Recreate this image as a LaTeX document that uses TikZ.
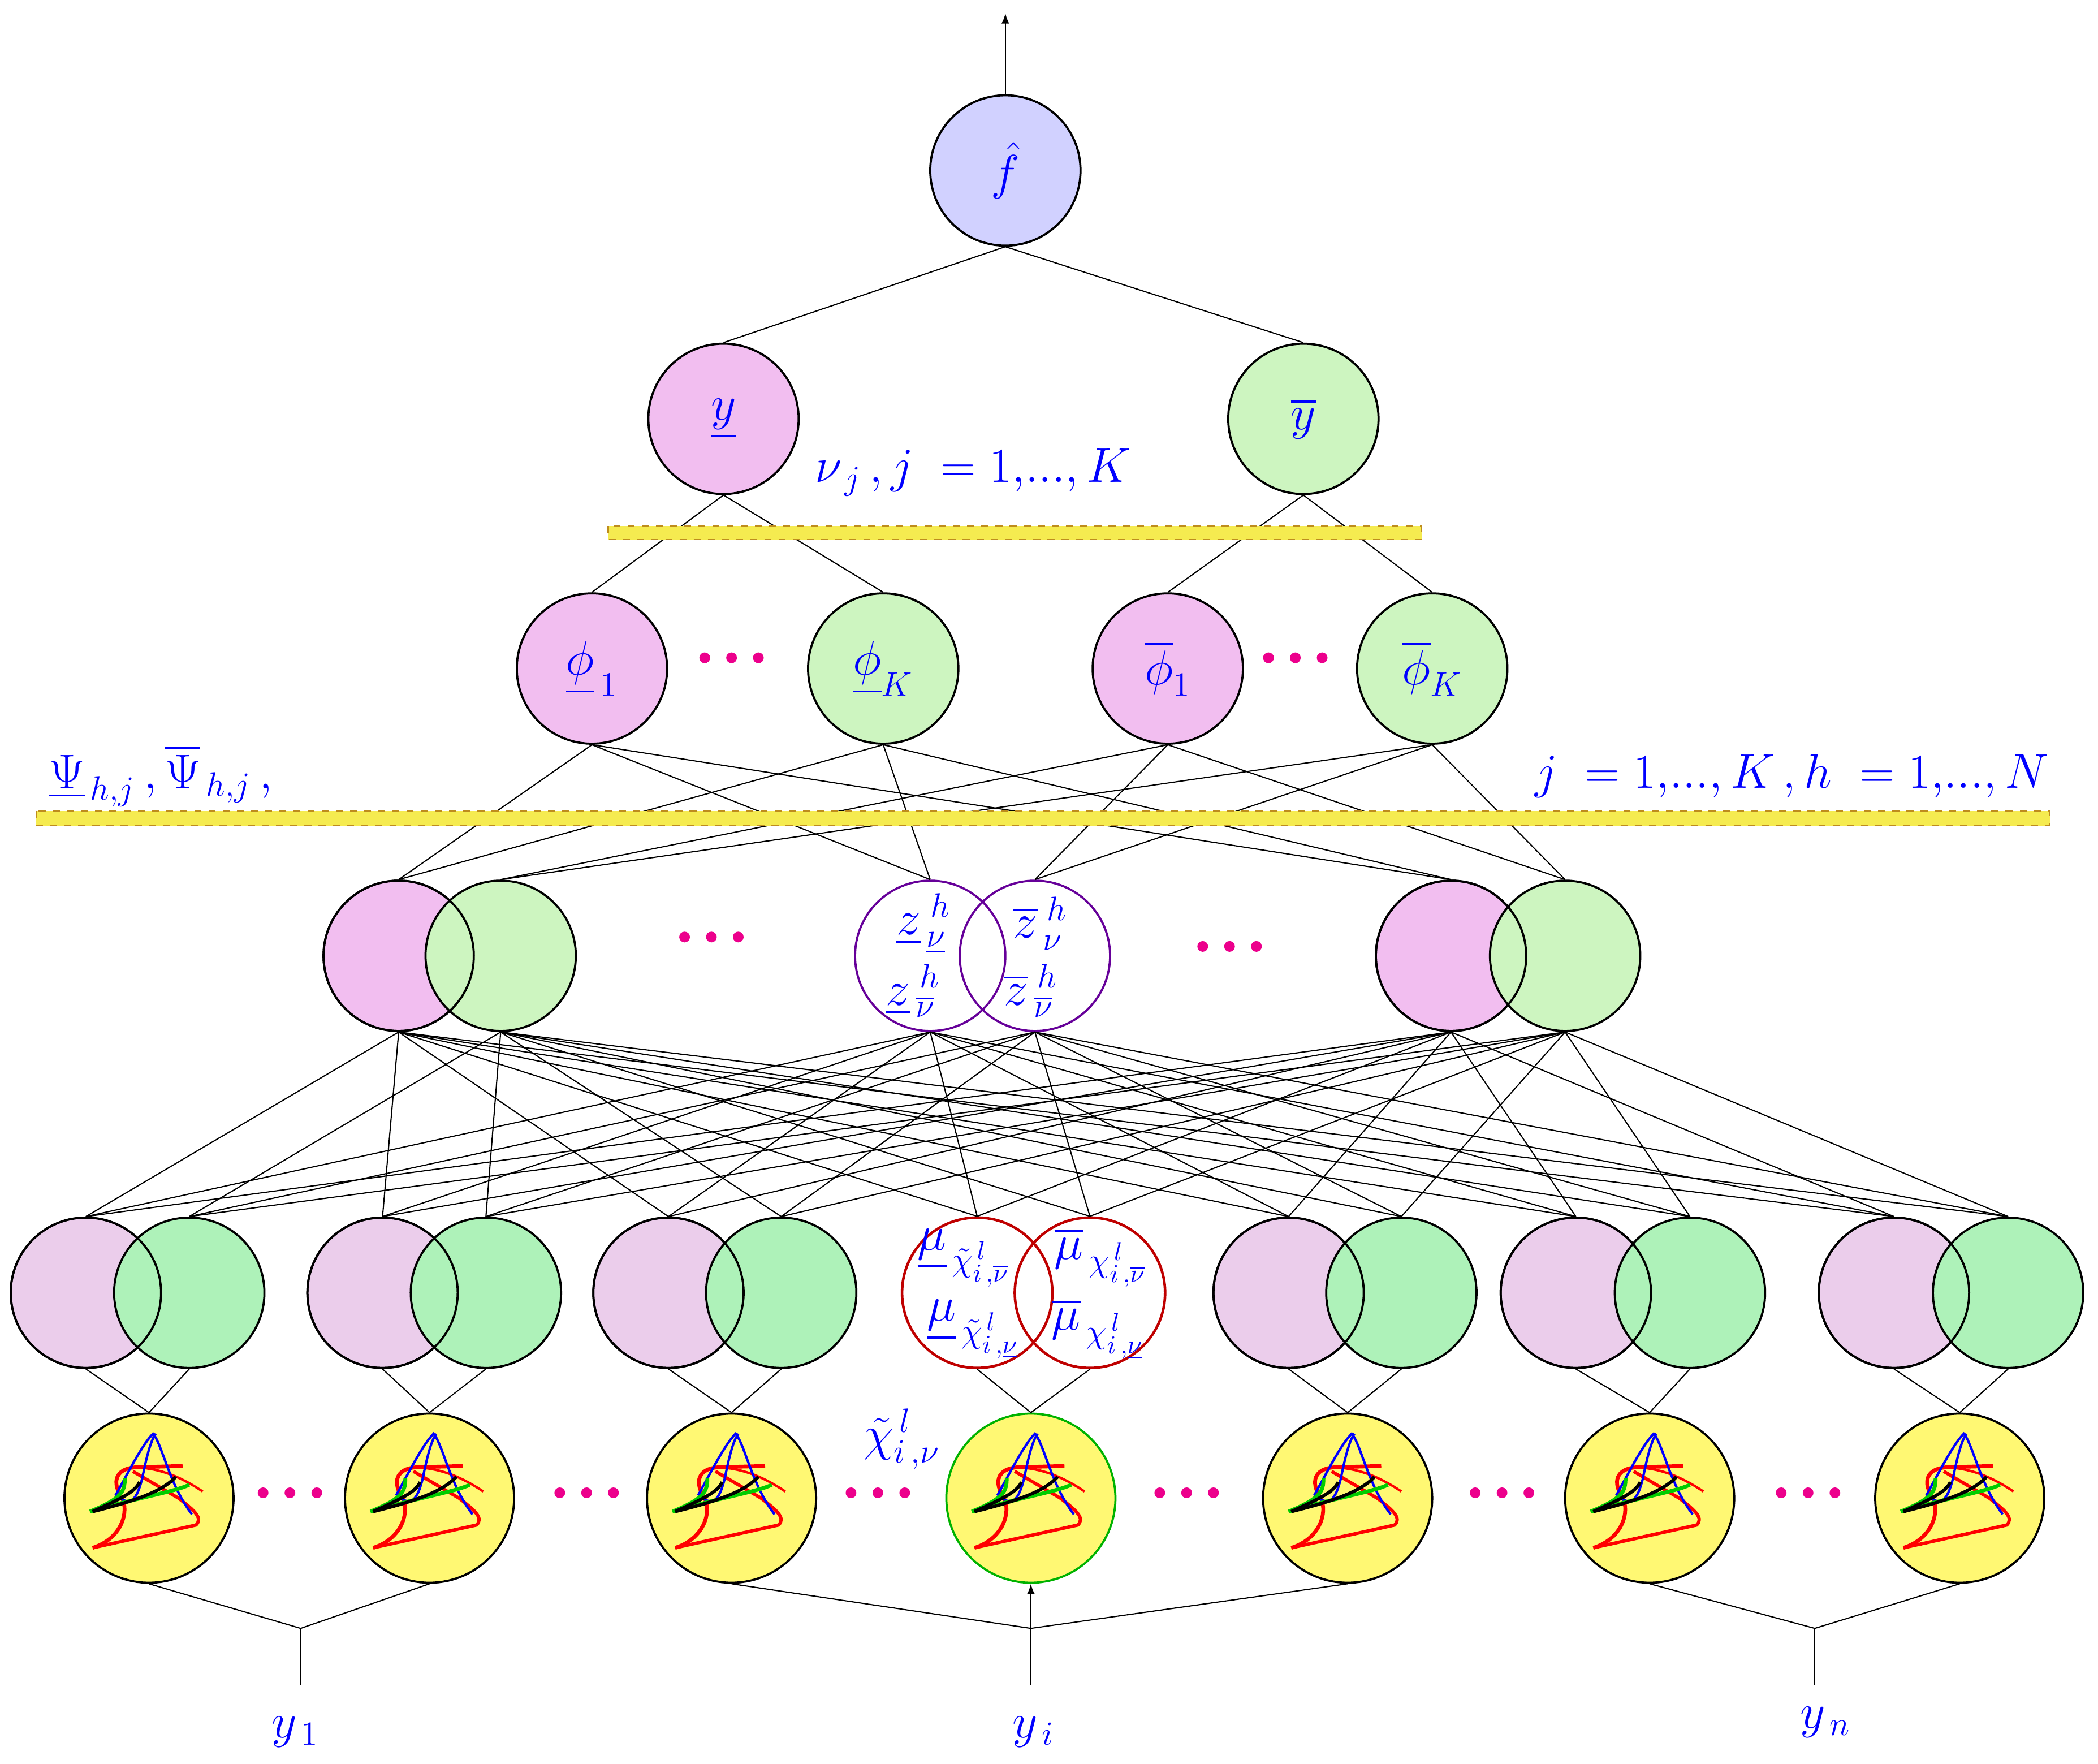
\documentclass[tikz,border=0pt]{standalone}
\usepackage{amsmath}
\begin{document}
\begin{tikzpicture}[x=0.02cm,y=-0.02cm,
 nd/.style={circle,draw=black,line width=0.9pt,minimum size=2.24cm,inner sep=0pt},
 yl/.style={circle,draw=black,line width=0.9pt,fill=yellow!55,minimum size=2.52cm,inner sep=0pt},
 pk/.style={nd,fill={rgb,255:red,242;green,190;blue,240}},
 gr/.style={nd,fill={rgb,255:red,205;green,245;blue,192}},
 pkl/.style={nd,fill={rgb,255:red,235;green,205;blue,235}},
 grl/.style={nd,fill={rgb,255:red,174;green,242;blue,185}},
 ln/.style={line width=0.5pt,black},
 lab/.style={text=blue,font=\fontsize{22}{26}\selectfont},
 dot/.style={circle,fill=magenta,inner sep=0pt,minimum size=0.16cm},
 bar/.style={draw={rgb,255:red,190;green,140;blue,30},dashed,fill={rgb,255:red,245;green,235;blue,80},line width=0.6pt}]
\useasboundingbox (0,0) rectangle (1563,1314);
% glyph
\tikzset{glyph/.pic={
 \draw[red,line width=1.6pt] (-42,37) .. controls (-20,30) and (-15,10) .. (-20,0) .. controls (-28,-12) and (-25,-22) .. (-10,-23) -- (25,-24);
 \draw[red,line width=1pt] (-10,-23) .. controls (10,-22) and (25,-15) .. (40,-5);
 \draw[red,line width=1.4pt] (-42,37) -- (35,20) .. controls (40,15) and (35,10) .. (22,0) -- (-12,-20);
 \draw[blue,line width=1pt] (-25,-2) .. controls (-15,-20) and (-5,-40) .. (3,-48) .. controls (10,-40) and (15,-10) .. (32,12);
 \draw[blue,line width=1pt] (-25,-2) .. controls (-15,5) and (-10,5) .. (-5,-15) .. controls (0,-40) and (3,-45) .. (5,-48);
 \draw[green!80!black,line width=1.6pt] (-44,10) .. controls (-20,0) and (-18,-5) .. (-18,-15);
 \draw[green!80!black,line width=1.6pt] (-44,10) .. controls (-10,0) and (20,-5) .. (30,-10);
 \draw[black,line width=1.4pt] (-42,10) .. controls (-20,0) and (-10,-5) .. (-7,-12);
 \draw[black,line width=1.4pt] (-42,10) .. controls (-10,2) and (10,-5) .. (20,-16);
}}
% top
\node[nd,fill=blue!18] (f) at (749,127) {\fontsize{22}{26}\selectfont\color{blue}$\hat f$};
\coordinate (ftop) at (749,10);
\draw[ln,-{latex}] (f.north) -- (ftop);
\node[pk] (yl) at (539,312) {\fontsize{22}{26}\selectfont\color{blue}$\underline{y}$};
\node[gr] (yu) at (971,312) {\fontsize{22}{26}\selectfont\color{blue}$\overline{y}$};
\draw[ln] (f.south) -- (yl.north); \draw[ln] (f.south) -- (yu.north);
\node[pk] (p1) at (441,498) {\fontsize{22}{26}\selectfont\color{blue}$\underline{\phi}_{\,1}$};
\node[gr] (pK) at (658,498) {\fontsize{22}{26}\selectfont\color{blue}$\underline{\phi}_{K}$};
\node[pk] (q1) at (870,498) {\fontsize{22}{26}\selectfont\color{blue}$\overline{\phi}_{1}$};
\node[gr] (qK) at (1067,498) {\fontsize{22}{26}\selectfont\color{blue}$\overline{\phi}_{K}$};
\draw[ln] (yl.south) -- (p1.north); \draw[ln] (yl.south) -- (pK.north);
\draw[ln] (yu.south) -- (q1.north); \draw[ln] (yu.south) -- (qK.north);
\draw[bar] (453,392) rectangle (1059,402);
\node[lab] (nu) at (725,352) {$\nu_{\,j}\,, j\;=1,\!...,K$};
\node[dot] (d1) at (525,490) {}; \node[dot] (d2) at (545,490) {}; \node[dot] (d3) at (565,490) {};
\node[dot] (d4) at (945,490) {}; \node[dot] (d5) at (965,490) {}; \node[dot] (d6) at (985,490) {};
% z layer
\node[pk] (a1) at (297,712) {}; \node[gr] (a2) at (373,712) {}; \draw[line width=0.9pt] (a1) circle (1.12cm);
\node[nd,draw=violet!80!blue,fill=none] (b1) at (693,712) {};
\node[nd,draw=violet!80!blue,fill=none] (b2) at (771,712) {};
\node[pk] (c1) at (1081,712) {}; \node[gr] (c2) at (1166,712) {}; \draw[line width=0.9pt] (c1) circle (1.12cm);
\node[lab] (zl1) at (688,688) {$\underline{z}_{\,\underline{\nu}}^{\;h}$};
\node[lab] (zl2) at (680,738) {$\underline{z}_{\,\overline{\nu}}^{\;h}$};
\node[lab] (zu1) at (775,688) {$\overline{z}_{\,\nu}^{\;h}$};
\node[lab] (zu2) at (768,738) {$\overline{z}_{\,\overline{\nu}}^{\;h}$};
\node[dot] (d7) at (510,698) {}; \node[dot] (d8) at (530,698) {}; \node[dot] (d9) at (550,698) {};
\node[dot] (d10) at (896,705) {}; \node[dot] (d11) at (916,705) {}; \node[dot] (d12) at (936,705) {};
\foreach \p in {p1,pK}{\foreach \z in {a1,b1,c1}{\draw[ln] (\p.south) -- (\z.north);}}
\foreach \p in {q1,qK}{\foreach \z in {a2,b2,c2}{\draw[ln] (\p.south) -- (\z.north);}}
\draw[bar] (27,604) rectangle (1527,615);
\node[lab] (psi) at (120,578) {$\underline{\Psi}_{\,h,j}\,,\overline{\Psi}_{\,h,j}\,,$};
\node[lab] (jh) at (1335,578) {$j\;=1,\!...,K\,,h\;=1,\!...,N$};
% mu layer
\foreach \i/\xa/\xb in {1/64/141,2/285/362,3/498/582,5/960/1044,6/1174/1259,7/1411/1496}{
 \node[pkl] (m\i a) at (\xa,963) {}; \node[grl] (m\i b) at (\xb,963) {};
 \draw[line width=0.9pt] (m\i a) circle (1.12cm);}
\node[nd,draw=red!75!black,line width=1.1pt] (m4a) at (728,963) {};
\node[nd,draw=red!75!black,line width=1.1pt,fill=none] (m4b) at (812,963) {};
\node[lab] (mu1) at (718,937) {$\underline{\mu}_{\,\tilde\chi^{\,l}_{i\,,\overline{\nu}}}$};
\node[lab] (mu2) at (725,990) {$\underline{\mu}_{\,\tilde\chi^{\,l}_{i\,,\underline{\nu}}}$};
\node[lab] (mu3) at (820,937) {$\overline{\mu}_{\,\chi^{\,l}_{i\,,\overline{\nu}}}$};
\node[lab] (mu4) at (818,990) {$\overline{\mu}_{\,\chi^{\,l}_{i\,,\underline{\nu}}}$};
\foreach \z in {a1,b1,c1}{\foreach \i in {1,...,7}{\draw[ln] (\z.south) -- (m\i a.north);}}
\foreach \z in {a2,b2,c2}{\foreach \i in {1,...,7}{\draw[ln] (\z.south) -- (m\i b.north);}}
% yellow layer
\foreach \i/\x in {1/111,2/320,3/545,5/1004,6/1229,7/1460}{
 \node[yl] (g\i) at (\x,1116) {}; \pic at (\x,1116) {glyph};}
\node[yl,draw=green!70!black] (g4) at (768,1116) {}; \pic at (768,1116) {glyph};
\foreach \i in {1,...,7}{\draw[ln] (g\i.north) -- (m\i a.south); \draw[ln] (g\i.north) -- (m\i b.south);}
\node[lab] (chi) at (672,1072) {$\tilde\chi^{\,l}_{i\,,\nu}$};
\foreach \x in {196,216,236,417,437,457,634,654,674,864,884,904,1099,1119,1139,1327,1347,1367}{\node[dot] at (\x,1112) {};}
% inputs
\coordinate (j1) at (224,1213); \coordinate (j2) at (768,1213); \coordinate (j3) at (1352,1213);
\coordinate (e1) at (224,1255); \coordinate (e2) at (768,1255); \coordinate (e3) at (1352,1255);
\draw[ln] (g1.south) -- (j1) -- (g2.south); \draw[ln] (e1) -- (j1);
\draw[ln] (g3.south) -- (j2) -- (g5.south); \draw[ln,-{latex}] (e2) -- (g4.south);
\draw[ln] (g6.south) -- (j3) -- (g7.south); \draw[ln] (e3) -- (j3);
\node[lab] (y1) at (220,1290) {$y_{\,1}$};
\node[lab] (yi) at (770,1290) {$y_{\,i}$};
\node[lab] (yn) at (1360,1283) {$y_{\,n}$};
\end{tikzpicture}
\end{document}
